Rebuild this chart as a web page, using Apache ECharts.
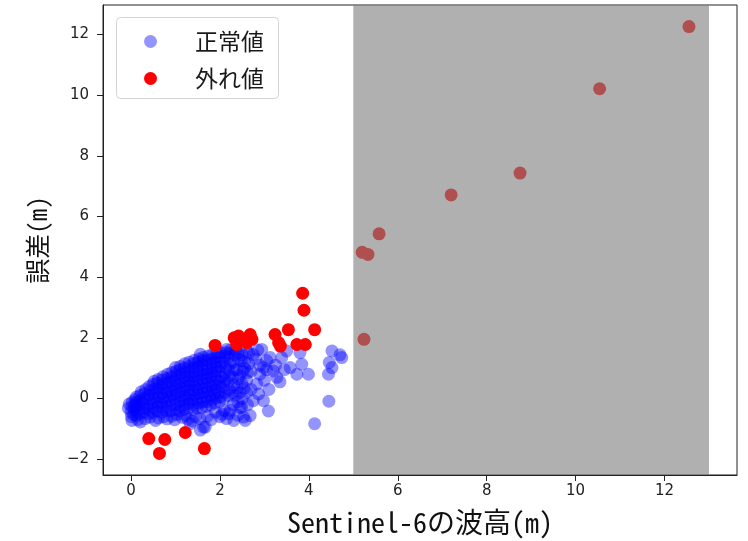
<!DOCTYPE html>
<html>
<head>
<meta charset="utf-8">
<script src="https://cdn.jsdelivr.net/npm/echarts@6/dist/echarts.min.js"></script>
<style>html,body{margin:0;padding:0;background:#fff}#chart{width:748px;height:541px}</style>
</head>
<body>
<div id="chart"></div>
<script>
// ---- data ----
const seriesNames = ['正常値', '外れ値'];
const xAxisName = 'Sentinel-6の波高(m)';
const yAxisName = '誤差(m)';
const xTicks = [0, 2, 4, 6, 8, 10, 12];
const yTicks = [-2, 0, 2, 4, 6, 8, 10, 12];
const spanX = [5, 13];

// inliers (正常値): [wave height, error]
const inliers = [
[-0.06,-0.32],[-0.04,-0.18],[0.00,-0.45],[0.01,-0.60],[0.02,-0.28],[0.03,-0.12],
[0.06,-0.52],[0.07,-0.36],[0.08,-0.20],[0.09,-0.04],[0.02,-0.72],
[0.12,-0.56],[0.13,-0.41],[0.11,-0.26],[0.14,-0.10],[0.12,0.05],[0.15,-0.70],
[0.19,-0.50],[0.21,-0.34],[0.18,-0.19],[0.22,-0.06],[0.20,0.10],[0.23,0.22],[0.21,-0.77],
[0.29,-0.46],[0.31,-0.30],[0.28,-0.14],[0.32,0.01],[0.30,0.16],[0.33,0.30],[0.32,-0.66],
[0.39,-0.50],[0.41,-0.36],[0.38,-0.21],[0.42,-0.04],[0.40,0.11],[0.43,0.26],[0.41,0.40],[0.43,-0.61],
[0.49,-0.46],[0.51,-0.31],[0.48,-0.16],[0.52,0.01],[0.50,0.15],[0.53,0.31],[0.49,0.46],[0.52,0.57],[0.55,-0.72],
[0.59,-0.41],[0.61,-0.25],[0.58,-0.11],[0.62,0.06],[0.60,0.21],[0.63,0.34],[0.59,0.51],[0.61,0.63],[0.62,-0.64],
[0.69,-0.46],[0.71,-0.29],[0.68,-0.15],[0.72,0.01],[0.70,0.16],[0.73,0.30],[0.69,0.46],[0.71,0.61],[0.72,0.72],[0.73,-0.60],
[0.79,-0.40],[0.81,-0.26],[0.78,-0.09],[0.82,0.05],[0.80,0.21],[0.83,0.36],[0.79,0.50],[0.81,0.66],[0.82,0.80],[0.81,-0.67],
[0.89,-0.41],[0.91,-0.20],[0.88,-0.05],[0.92,0.11],[0.90,0.25],[0.93,0.41],[0.89,0.55],[0.91,0.71],[0.92,0.86],[0.92,-0.58],
[0.99,-0.36],[1.01,-0.19],[0.98,0.00],[1.02,0.15],[1.00,0.31],[1.03,0.45],[0.99,0.60],[1.01,0.76],[1.02,0.90],[1.00,1.02],[1.03,-0.52],[0.98,-0.70],
[1.09,-0.40],[1.11,-0.25],[1.08,-0.10],[1.12,0.06],[1.10,0.21],[1.13,0.35],[1.09,0.50],[1.11,0.66],[1.12,0.80],[1.10,0.95],[1.11,1.06],[1.15,-0.62],
[1.19,-0.36],[1.21,-0.20],[1.18,-0.05],[1.22,0.10],[1.20,0.26],[1.23,0.40],[1.19,0.55],[1.21,0.70],[1.22,0.86],[1.20,1.00],[1.21,1.15],[1.22,-0.55],
[1.29,-0.30],[1.31,-0.15],[1.28,0.01],[1.32,0.15],[1.30,0.30],[1.33,0.46],[1.29,0.60],[1.31,0.75],[1.32,0.90],[1.30,1.05],[1.31,1.20],[1.33,-0.83],[1.28,-0.68],
[1.39,-0.36],[1.41,-0.20],[1.38,-0.05],[1.42,0.10],[1.40,0.26],[1.43,0.40],[1.39,0.55],[1.41,0.71],[1.42,0.85],[1.40,1.00],[1.41,1.15],[1.42,1.26],[1.45,-0.60],[1.38,-0.74],
[1.49,-0.31],[1.51,-0.15],[1.48,0.00],[1.52,0.16],[1.50,0.30],[1.53,0.45],[1.49,0.60],[1.51,0.76],[1.52,0.90],[1.50,1.05],[1.51,1.20],[1.53,1.31],[1.56,1.46],[1.55,-0.66],
[1.59,-0.30],[1.61,-0.11],[1.58,0.05],[1.62,0.20],[1.60,0.35],[1.63,0.51],[1.59,0.65],[1.61,0.80],[1.62,0.95],[1.60,1.10],[1.61,1.25],[1.63,1.36],[1.56,-1.04],[1.63,-0.94],
[1.69,-0.26],[1.71,-0.10],[1.68,0.05],[1.72,0.21],[1.70,0.35],[1.73,0.50],[1.69,0.66],[1.71,0.80],[1.72,0.95],[1.70,1.10],[1.71,1.26],[1.73,1.40],[1.67,-0.94],[1.72,-0.58],
[1.79,-0.21],[1.81,-0.05],[1.78,0.10],[1.82,0.25],[1.80,0.41],[1.83,0.55],[1.79,0.70],[1.81,0.86],[1.82,1.00],[1.80,1.15],[1.81,1.30],[1.83,1.45],[1.80,-0.70],
[1.89,-0.15],[1.91,0.01],[1.88,0.15],[1.92,0.30],[1.90,0.45],[1.93,0.61],[1.89,0.75],[1.91,0.90],[1.92,1.05],[1.90,1.20],[1.91,1.35],[1.93,1.50],[1.90,-0.45],
[1.99,-0.10],[2.01,0.05],[1.98,0.20],[2.02,0.40],[2.00,0.55],[2.03,0.70],[1.99,0.90],[2.01,1.05],[2.02,1.20],[2.00,1.35],[2.01,1.51],[2.00,-0.60],[2.05,-0.52],
[2.09,0.00],[2.11,0.20],[2.08,0.40],[2.12,0.60],[2.10,0.80],[2.13,1.00],[2.09,1.20],[2.11,1.40],[2.12,1.52],[2.10,-0.40],[2.15,-0.66],[2.15,1.62],
[2.19,0.10],[2.21,0.31],[2.18,0.55],[2.22,0.75],[2.20,0.95],[2.23,1.15],[2.19,1.35],[2.21,1.50],[2.20,-0.50],[2.23,-0.39],[2.25,1.62],
[2.29,0.20],[2.31,0.45],[2.28,0.70],[2.32,0.95],[2.30,1.20],[2.33,1.45],[2.31,-0.72],[2.30,-0.20],[2.35,0.10],[2.35,1.60],
[2.39,0.35],[2.41,0.65],[2.38,0.95],[2.42,1.30],[2.40,1.50],[2.40,-0.10],[2.40,-0.55],[2.45,0.20],[2.45,0.75],
[2.49,0.50],[2.51,0.90],[2.48,1.25],[2.50,0.00],[2.45,-0.30],[2.53,-0.61],[2.57,-0.72],[2.49,-0.28],[2.55,0.35],[2.55,1.00],[2.50,1.45],
[2.60,0.20],[2.60,0.60],[2.55,1.20],[2.65,1.50],[2.60,1.55],[2.62,-0.20],[2.68,-0.56],[2.70,0.90],[2.70,0.30],[2.65,1.15],[2.62,0.85],
[2.75,-0.07],[2.75,1.45],[2.80,1.30],[2.83,0.48],[2.85,1.60],[2.87,0.15],[2.90,1.10],[2.90,0.80],[2.94,1.62],
[2.98,1.02],[2.98,-0.07],[3.00,0.60],[3.05,0.95],[3.05,1.25],[3.09,-0.41],[3.10,0.30],[3.13,1.35],[3.20,0.91],
[3.25,1.10],[3.28,0.70],[3.35,0.55],[3.39,1.35],[3.45,0.95],[3.50,1.57],[3.58,1.02],[3.73,0.80],[3.80,1.51],
[3.84,1.13],[3.99,0.80],[4.13,-0.83],[4.44,0.80],[4.45,-0.09],[4.46,1.19],[4.52,1.02],[4.52,1.57],[4.70,1.44],[4.74,1.35]
];

// outliers (外れ値)
const outliers = [
[0.40,-1.32],[0.76,-1.35],[0.64,-1.81],[1.22,-1.12],[1.65,-1.65],
[1.89,1.75],[2.32,2.00],[2.42,2.06],[2.49,1.95],[2.38,1.78],[2.61,1.84],[2.68,2.11],[2.72,1.95],
[3.24,2.11],[3.32,1.84],[3.36,1.73],[3.54,2.27],[3.73,1.78],[3.92,1.78],[4.13,2.27],[3.86,3.47],[3.89,2.91],
[5.24,1.95],[5.20,4.82],[5.33,4.75],[5.58,5.43],[7.20,6.71],[8.75,7.43],[10.54,10.21],[12.55,12.26]
];

// ---- chart ----
const chart = echarts.init(document.getElementById('chart'), null, {renderer: 'canvas'});
const tickFont = {fontSize: 15, fontFamily: 'DejaVu Sans', color: '#222'};
const nameFont = "'Noto Sans Mono CJK JP', 'DejaVu Sans Mono', 'Noto Sans CJK JP', monospace";
const minusFmt = v => String(v).replace('-', '\u2212');

chart.setOption({
  animation: false,
  backgroundColor: '#fff',
  grid: {left: 103, right: 11, top: 5, bottom: 63, show: true, borderColor: '#222', borderWidth: 1, backgroundColor: 'transparent'},
  graphic: [{
    type: 'rect', left: 116, top: 17, z: 3,
    shape: {width: 162, height: 81, r: 4},
    style: {fill: 'rgba(255,255,255,0.85)', stroke: '#d4d4d4', lineWidth: 1}
  }],
  legend: {
    orient: 'vertical', left: 139, top: 24, z: 5,
    data: seriesNames,
    icon: 'circle', itemWidth: 13, itemHeight: 13, itemGap: 12,
    textStyle: {fontSize: 23, fontFamily: "'Noto Sans CJK JP'", color: '#1a1a1a', lineHeight: 25, padding: [0, 0, 0, 33]},
    selectedMode: false
  },
  xAxis: {
    type: 'value', min: -0.63, max: 13.63,
    splitLine: {show: false},
    axisLine: {onZero: false, lineStyle: {color: '#222'}},
    axisTick: {customValues: xTicks, length: 6, lineStyle: {color: '#222'}},
    axisLabel: Object.assign({customValues: xTicks, margin: 9, formatter: minusFmt}, tickFont),
    name: xAxisName, nameLocation: 'middle', nameGap: 33,
    nameTextStyle: {fontSize: 28, fontFamily: nameFont, color: '#111'}
  },
  yAxis: {
    type: 'value', min: -2.52, max: 12.97,
    splitLine: {show: false},
    axisLine: {onZero: false, lineStyle: {color: '#222'}},
    axisTick: {customValues: yTicks, length: 6, lineStyle: {color: '#222'}},
    axisLabel: Object.assign({customValues: yTicks, margin: 14, formatter: minusFmt}, tickFont),
    name: yAxisName, nameLocation: 'middle', nameGap: 53,
    nameTextStyle: {fontSize: 25, fontFamily: nameFont, color: '#111'}
  },
  series: [
    {
      name: seriesNames[0], type: 'scatter', data: inliers, symbolSize: 13, z: 2,
      itemStyle: {color: 'rgba(0,0,255,0.42)', opacity: 1}, silent: true
    },
    {
      name: seriesNames[1], type: 'scatter', data: outliers, symbolSize: 13, z: 3,
      itemStyle: {color: '#ff0000', opacity: 1}, silent: true
    },
    {
      name: 'span', type: 'scatter', data: [], z: 10, silent: true,
      markArea: {
        silent: true, z: 10,
        itemStyle: {color: 'rgba(128,128,128,0.62)'},
        data: [[{xAxis: spanX[0]}, {xAxis: spanX[1]}]]
      }
    }
  ]
});
</script>
</body>
</html>
